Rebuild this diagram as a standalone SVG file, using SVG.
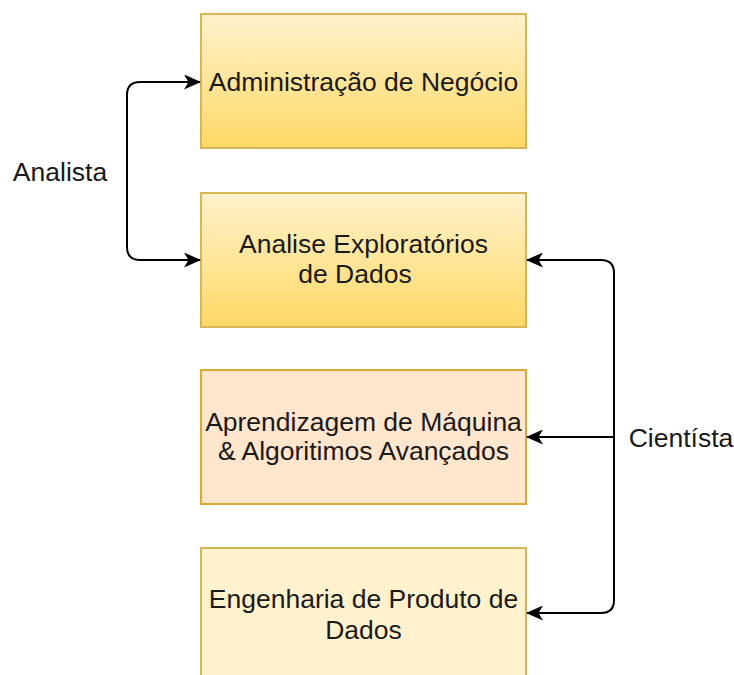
<svg xmlns="http://www.w3.org/2000/svg" width="734" height="675" viewBox="0 0 734 675">
  <defs>
    <linearGradient id="goldFill" x1="0" y1="0" x2="0" y2="1">
      <stop offset="0" stop-color="#fff2cc"/>
      <stop offset="1" stop-color="#ffd966"/>
    </linearGradient>
    <marker id="arrow" viewBox="0 0 17 15" refX="16" refY="7.5" markerWidth="17" markerHeight="15" markerUnits="userSpaceOnUse" orient="auto-start-reverse">
      <path d="M0,0 L17,7.5 L0,15 L4.5,7.5 Z" fill="#000"/>
    </marker>
    <style>
      .box { stroke-width: 2; }
      .gold { fill: url(#goldFill); stroke: #d6b656; }
      .peach { fill: #ffe6cc; stroke: #dcaa30; }
      .pale { fill: #fff2cc; stroke: #d6b656; }
      .label { font-family: "Liberation Sans", Arial, sans-serif; font-size: 26.5px; fill: #1a1a1a; text-anchor: middle; }
      .edge { fill: none; stroke: #000; stroke-width: 2; }
    </style>
  </defs>

  <rect width="734" height="675" fill="#ffffff"/>

  <g id="node-admin">
    <rect class="box gold" x="201" y="14" width="325" height="134"/>
    <text class="label" x="363.5" y="90.5">Administração de Negócio</text>
  </g>

  <g id="node-eda">
    <rect class="box gold" x="201" y="193" width="325" height="134"/>
    <text class="label" x="363.5" y="253">Analise Exploratórios</text>
    <text class="label" x="355" y="283">de Dados</text>
  </g>

  <g id="node-ml">
    <rect class="box peach" x="201" y="370" width="325" height="134"/>
    <text class="label" x="363.5" y="431">Aprendizagem de Máquina</text>
    <text class="label" x="363.5" y="460">&amp; Algoritimos Avançados</text>
  </g>

  <g id="node-eng">
    <rect class="box pale" x="201" y="548" width="325" height="134"/>
    <text class="label" x="363.5" y="608">Engenharia de Produto de</text>
    <text class="label" x="363.5" y="639">Dados</text>
  </g>

  <g id="connectors">
    <!-- Analista: admin <-> EDA -->
    <path class="edge" d="M200,82 L140,82 Q127,82 127,95 L127,247 Q127,260 140,260 L200,260" marker-start="url(#arrow)" marker-end="url(#arrow)"/>
    <!-- Cientista: EDA <-> engenharia, with branch to ML -->
    <path class="edge" d="M527,260 L601,260 Q614,260 614,273 L614,600 Q614,613 601,613 L527,613" marker-start="url(#arrow)" marker-end="url(#arrow)"/>
    <path class="edge" d="M614,437 L527,437" marker-end="url(#arrow)"/>
    <text class="label" x="60" y="181">Analista</text>
    <text class="label" x="681" y="447">Cientísta</text>
  </g>
</svg>
